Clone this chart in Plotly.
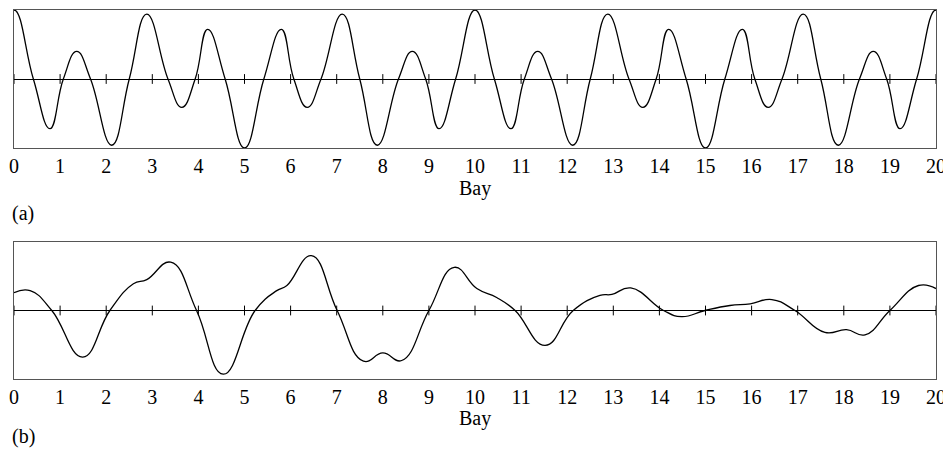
import plotly.graph_objects as go

# ---- data ----
bays = list(range(21))
tick_labels = [str(b) for b in bays]
axis_title = "Bay"
panel_labels = ["(a)", "(b)"]

# panel (a): mode shape (normalised), read at extrema and zero crossings
a_x = [-0.42, 0.0, 0.42, 0.78, 1.07, 1.36, 1.66, 2.12, 2.5, 2.88, 3.34, 3.64, 3.93, 4.2, 4.58,
       5.0, 5.42, 5.8, 6.07, 6.36, 6.66, 7.12, 7.5, 7.88, 8.34, 8.64, 8.93, 9.22, 9.58,
       10.0, 10.42, 10.78, 11.07, 11.36, 11.66, 12.12, 12.5, 12.88, 13.34, 13.64, 13.93, 14.2, 14.58,
       15.0, 15.42, 15.8, 16.07, 16.36, 16.66, 17.12, 17.5, 17.88, 18.34, 18.64, 18.93, 19.22, 19.58,
       20.0, 20.42]
a_y = [0, 1.0, 0, -0.72, 0, 0.40, 0, -0.96, 0, 0.94, 0, -0.41, 0, 0.72, 0,
       -1.0, 0, 0.72, 0, -0.41, 0, 0.94, 0, -0.96, 0, 0.40, 0, -0.72, 0,
       1.0, 0, -0.72, 0, 0.40, 0, -0.96, 0, 0.94, 0, -0.41, 0, 0.72, 0,
       -1.0, 0, 0.72, 0, -0.41, 0, 0.94, 0, -0.96, 0, 0.40, 0, -0.72, 0,
       1.0, 0]

# panel (b)
b_x = [0.0, 0.35, 0.82, 1.49, 2.08, 2.59, 2.88, 3.4, 3.96, 4.54, 5.23, 5.7, 5.92, 6.45,
       7.01, 7.58, 8.0, 8.41, 9.0, 9.55, 10.04, 10.47, 10.87, 11.52, 12.13, 12.71, 12.97,
       13.38, 14.09, 14.48, 14.99, 15.53, 15.97, 16.44, 16.94, 17.59, 18.06, 18.46, 19.0,
       19.62, 20.0]
b_y = [0.26, 0.29, 0.0, -0.68, 0.0, 0.39, 0.45, 0.705, 0.0, -0.93, 0.0, 0.29, 0.365, 0.80,
       0.0, -0.74, -0.62, -0.73, 0.0, 0.63, 0.32, 0.19, 0.0, -0.51, 0.0, 0.22, 0.235,
       0.33, 0.0, -0.09, 0.0, 0.073, 0.097, 0.16, 0.0, -0.32, -0.28, -0.355, 0.0,
       0.365, 0.32]

# figure is placed inside the page body, which has an 8px margin
W, H = 943, 446
FONT = "Liberation Serif"
FS = 20

fig = go.Figure()
for xa, ya, xs, ys in [("x", "y", a_x, a_y), ("x2", "y2", b_x, b_y)]:
    fig.add_trace(go.Scatter(x=xs, y=ys, mode="lines", xaxis=xa, yaxis=ya,
                             line=dict(color="black", width=1.3, shape="spline", smoothing=1.3),
                             hoverinfo="skip", showlegend=False))
    fig.add_trace(go.Scatter(x=bays, y=[0] * len(bays), mode="markers", xaxis=xa, yaxis=ya,
                             marker=dict(symbol="line-ns", size=7, color="black",
                                         line=dict(color="black", width=1)),
                             hoverinfo="skip", showlegend=False))

xdom = [6 / W, 928 / W]
common_x = dict(range=[0, 20], domain=xdom, showgrid=False, showline=True, mirror=True,
                linecolor="#555", linewidth=1, tickmode="array", tickvals=bays,
                ticktext=tick_labels, ticks="", zeroline=False, automargin=False,
                tickfont=dict(family=FONT, size=FS, color="black"))
common_y = dict(range=[-1.0, 1.0], showgrid=False, showline=True, mirror=True,
                linecolor="#555", linewidth=1, showticklabels=False, ticks="",
                automargin=False,
                zeroline=True, zerolinecolor="black", zerolinewidth=1)

xmid = (xdom[0] + xdom[1]) / 2
txt = dict(xref="paper", yref="paper", showarrow=False, yanchor="middle",
           font=dict(family=FONT, size=FS, color="black"))

fig.update_layout(
    width=W, height=H, margin=dict(l=0, r=0, t=0, b=0, autoexpand=False),
    paper_bgcolor="white", plot_bgcolor="white",
    xaxis=dict(**common_x, anchor="y"),
    yaxis=dict(**common_y, domain=[1 - 140 / H, 1 - 2 / H], anchor="x"),
    xaxis2=dict(**common_x, anchor="y2"),
    yaxis2=dict(**common_y, domain=[1 - 371 / H, 1 - 234 / H], anchor="x2"),
    annotations=[
        dict(text=axis_title, x=xmid, y=1 - 180 / H, xanchor="center", **txt),
        dict(text=axis_title, x=xmid, y=1 - 410 / H, xanchor="center", **txt),
        dict(text=panel_labels[0], x=2 / W, y=1 - 205 / H, xanchor="left", **txt),
        dict(text=panel_labels[1], x=2 / W, y=1 - 428 / H, xanchor="left", **txt),
    ],
)

fig.write_html("out.html")
